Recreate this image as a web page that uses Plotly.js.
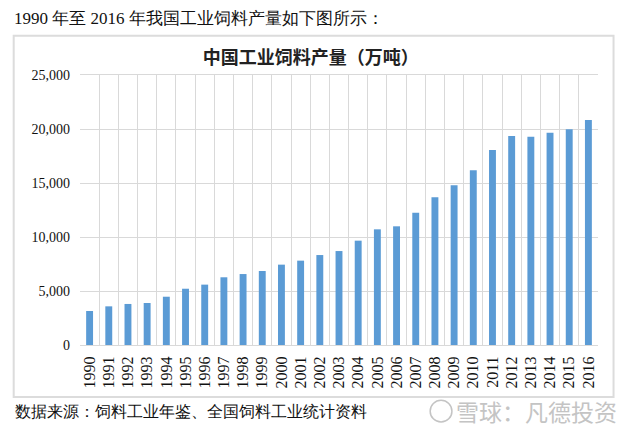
<!DOCTYPE html>
<html><head><meta charset="utf-8">
<script src="https://cdn.plot.ly/plotly-3.0.1.min.js"></script>
<style>html,body{margin:0;padding:0;background:#fff;}#chart{width:628px;height:438px;}</style>
</head><body><div id="chart"></div>
<script>
const years = ["1990","1991","1992","1993","1994","1995","1996","1997","1998","1999","2000","2001","2002","2003","2004","2005","2006","2007","2008","2009","2010","2011","2012","2013","2014","2015","2016"];
const output = [3150,3580,3800,3890,4470,5210,5590,6270,6570,6850,7440,7810,8330,8700,9660,10710,10990,12250,13670,14790,16170,18060,19350,19290,19660,19970,20830];
const yTicks = [0,5000,10000,15000,20000,25000];
const yTickText = ["0","5,000","10,000","15,000","20,000","25,000"];
const chartTitle = "中国工业饲料产量（万吨）";
const headText = "1990 年至 2016 年我国工业饲料产量如下图所示：";
const sourceText = "数据来源：饲料工业年鉴、全国饲料工业统计资料";
const watermark = "雪球：凡德投资";

const serif = "Times New Roman, Liberation Serif, DejaVu Serif, serif";

const data = [{
  type: "bar",
  x: years,
  y: output,
  marker: {color: "#5b9bd5"},
  hoverinfo: "x+y"
}];

const layout = {
  width: 628, height: 438,
  margin: {l: 80, r: 30, t: 75, b: 93},
  paper_bgcolor: "#fff", plot_bgcolor: "#fff",
  bargap: 0.64,
  showlegend: false,
  font: {family: serif},
  title: {text: "<b>" + chartTitle + "</b>", x: 0.495, xanchor: "center", y: 0.868, yanchor: "middle",
          font: {family: "Noto Sans CJK SC, sans-serif", size: 18, color: "#222"}},
  xaxis: {
    type: "category",
    tickson: "boundaries",
    showgrid: true, gridcolor: "#d9d9d9", gridwidth: 1,
    showline: true, linecolor: "#d9d9d9", linewidth: 1, mirror: true,
    ticks: "", tickangle: -90, ticklabelstandoff: 4,
    tickfont: {family: serif, size: 16, color: "#111"},
    automargin: false
  },
  yaxis: {
    range: [0, 25000],
    tickvals: yTicks, ticktext: yTickText,
    showgrid: true, gridcolor: "#d9d9d9", gridwidth: 1,
    zeroline: false,
    showline: false,
    ticks: "", ticklabelstandoff: 9,
    tickfont: {family: serif, size: 14, color: "#111"},
    automargin: false
  },
  shapes: [
    {type: "rect", xref: "paper", yref: "paper", layer: "below",
     x0: -0.128, x1: 1.03, y0: -0.193, y1: 1.145,
     line: {color: "#dcdcdc", width: 2}, fillcolor: "rgba(0,0,0,0)"},
    {type: "circle", xref: "paper", yref: "paper",
     x0: 0.676, x1: 0.718, y0: -0.285, y1: -0.205,
     line: {color: "#c4c4c4", width: 1.5}}
  ],
  annotations: [
    {text: headText, xref: "paper", yref: "paper", x: -0.131, y: 1.211, xanchor: "left", yanchor: "middle",
     showarrow: false, font: {family: serif, size: 17, color: "#111"}},
    {text: sourceText, xref: "paper", yref: "paper", x: -0.129, y: -0.245, xanchor: "left", yanchor: "middle",
     showarrow: false, font: {family: serif, size: 16, color: "#111"}},
    {text: watermark, xref: "paper", yref: "paper", x: 0.722, y: -0.245, xanchor: "left", yanchor: "middle",
     showarrow: false, font: {family: "Noto Sans CJK SC, sans-serif", size: 23, color: "#c4c4c4"}}
  ]
};

Plotly.newPlot("chart", data, layout, {displayModeBar: false, staticPlot: true});
</script></body></html>
